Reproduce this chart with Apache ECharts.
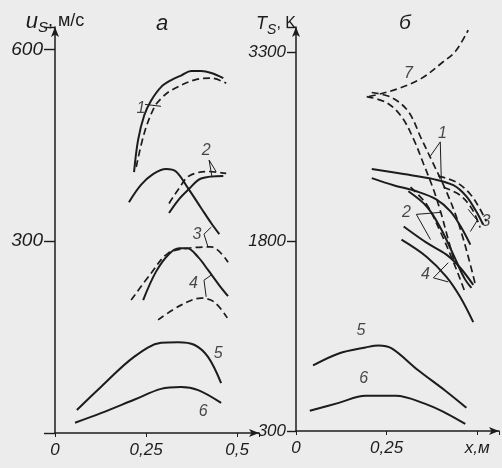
<!DOCTYPE html>
<html><head><meta charset="utf-8">
<script src="https://cdn.jsdelivr.net/npm/echarts@6/dist/echarts.min.js"></script>
<style>html,body{margin:0;padding:0;background:#ececec}#c{width:502px;height:468px}</style>
</head><body><div id="c"></div>
<script>
// ---- panel а : u_S (м/с) vs x (м) ----
const xTicks = [0, 0.25, 0.5];
const xTickLabelsA = ['0', '0,25', '0,5'];
const xTickLabelsB = ['0', '0,25', 'x,м'];
const yTicksA = [300, 600];
const yTicksB = [300, 1800, 3300];

const a1Solid = [[0.217,408],[0.228,458],[0.245,497],[0.264,520],[0.291,541],[0.319,552],[0.346,559],[0.374,566],[0.401,566],[0.429,563],[0.462,555]];
const a1Dash  = [[0.223,416],[0.245,469],[0.272,509],[0.291,523],[0.319,536],[0.382,552],[0.429,555],[0.470,547]];
const a2Hill  = [[0.203,361],[0.236,388],[0.269,405],[0.305,413],[0.332,409],[0.365,383],[0.401,352],[0.429,328],[0.451,311]];
const a2Solid = [[0.313,344],[0.338,364],[0.365,380],[0.401,398],[0.462,402]];
const a2Dash  = [[0.313,359],[0.341,383],[0.368,402],[0.420,409],[0.470,406]];
const a3Solid = [[0.242,208],[0.277,252],[0.313,280],[0.341,289],[0.363,289],[0.393,275],[0.420,255],[0.451,231],[0.475,214]];
const a3Dash  = [[0.209,208],[0.264,250],[0.310,281],[0.365,289],[0.429,291],[0.475,267]];
const a4Dash  = [[0.283,177],[0.346,200],[0.401,211],[0.437,205],[0.473,180]];
const a5Solid = [[0.060,36],[0.126,72],[0.217,119],[0.291,141],[0.338,142],[0.382,138],[0.420,119],[0.456,78]];
const a6Solid = [[0.055,16],[0.126,31],[0.217,52],[0.291,69],[0.346,72],[0.393,67],[0.456,47]];
const aLabels = [[0.236,508,'1'],[0.415,441,'2'],[0.390,311,'3'],[0.380,234,'4'],[0.448,125,'5'],[0.407,33,'6']];
const aLeaders = [
  [[0.247,514],[0.291,511]],
  [[0.423,427],[0.442,409]],[[0.423,427],[0.431,400]],
  [[0.409,311],[0.429,322]],[[0.409,311],[0.420,291]],
  [[0.409,239],[0.429,247]],[[0.409,239],[0.415,213]]
];

// ---- panel б : T_S (K) vs x (м) ----
const b7Dash  = [[0.201,2949],[0.236,2973],[0.283,3013],[0.346,3093],[0.401,3213],[0.440,3308],[0.475,3476]];
const b1DashA = [[0.195,2949],[0.250,2901],[0.291,2790],[0.324,2614],[0.352,2415],[0.379,2215],[0.401,2016],[0.420,1816],[0.437,1641]];
const b1DashB = [[0.209,2981],[0.264,2941],[0.310,2830],[0.346,2614],[0.379,2415],[0.412,2215],[0.440,2016],[0.462,1816],[0.481,1617],[0.495,1457]];
const b2Dash  = [[0.316,2231],[0.360,2096],[0.398,1880],[0.434,1641],[0.464,1417]];
const b3DashA = [[0.393,2319],[0.442,2271],[0.481,2175],[0.508,2056],[0.525,1960]];
const b3DashB = [[0.407,2231],[0.453,2167],[0.486,2056],[0.508,1912]];
const b1SolidA = [[0.209,2375],[0.297,2335],[0.379,2295],[0.434,2247],[0.470,2159],[0.497,2040],[0.516,1936]];
const b1SolidB = [[0.209,2303],[0.269,2247],[0.332,2199],[0.387,2135],[0.426,2040],[0.456,1912],[0.481,1776]];
const b2Solid = [[0.310,2199],[0.360,2080],[0.398,1912],[0.434,1697],[0.464,1513],[0.484,1433]];
const b4SolidA = [[0.297,1920],[0.360,1792],[0.415,1697],[0.453,1593],[0.489,1457]];
const b4SolidB = [[0.291,1816],[0.360,1681],[0.415,1521],[0.453,1361],[0.489,1162]];
const b5Solid = [[0.047,819],[0.118,914],[0.192,962],[0.228,978],[0.264,954],[0.338,779],[0.412,619],[0.470,484]];
const b6Solid = [[0.038,460],[0.118,523],[0.192,579],[0.275,579],[0.357,515],[0.412,444],[0.467,356]];
const bLabels = [[0.310,3133,'7'],[0.404,2660,'1'],[0.305,2032,'2'],[0.524,1960,'3'],[0.357,1537,'4'],[0.179,1098,'5'],[0.187,715,'6']];
const bLeaders = [
  [[0.398,2590],[0.371,2479]],[[0.398,2590],[0.401,2271]],
  [[0.332,2016],[0.401,2032]],[[0.332,2016],[0.371,1816]],
  [[0.500,1968],[0.475,2056]],[[0.500,1968],[0.481,1880]],
  [[0.379,1513],[0.420,1633]],[[0.379,1513],[0.420,1481]]
];

const INK = '#1c1c1c';
const FONT = 'Liberation Sans';
function curve(data, g, dashed){
  return {type:'line', xAxisIndex:g, yAxisIndex:g, data:data, smooth:0.35, symbol:'none',
    lineStyle:{color:INK, width: dashed?1.7:2, type: dashed?[7,4]:'solid'}, silent:true, z:3};
}
function labels(data, g){
  return {type:'scatter', xAxisIndex:g, yAxisIndex:g, data:data, symbolSize:0, silent:true, z:5,
    label:{show:true, position:'inside', formatter:p=>p.value[2], color:INK, fontFamily:FONT, fontStyle:'italic', fontSize:16}};
}
function leaders(list, g){
  return {type:'lines', coordinateSystem:'cartesian2d', xAxisIndex:g, yAxisIndex:g, silent:true, z:4,
    data:list.map(c=>({coords:c})), lineStyle:{color:INK, width:1, opacity:1, curveness:0}};
}
function xAxis(g, labs){
  return {gridIndex:g, type:'value', min:0, max:0.56, interval:0.25,
    axisLine:{show:true, lineStyle:{color:INK, width:1.5}, symbol:['none','arrow'], symbolSize:[6,10]},
    axisTick:{show:true, length:4, lineStyle:{color:INK}}, splitLine:{show:false},
    axisLabel:{color:INK, fontFamily:FONT, fontStyle:'italic', fontSize:17, margin:9,
      formatter:v=>{const i=xTicks.findIndex(t=>Math.abs(t-v)<1e-6); return i<0?'':labs[i];}}};
}
const option = {
  backgroundColor:'#ececec', animation:false,
  title:[
    {text:'а', left:151, top:8, textStyle:{fontFamily:FONT, fontStyle:'italic', fontWeight:'normal', fontSize:22, color:INK}},
    {text:'б', left:394, top:8, textStyle:{fontFamily:FONT, fontStyle:'italic', fontWeight:'normal', fontSize:21, color:INK}}
  ],
  grid:[
    {left:55, top:27, width:204, height:406},
    {left:296, top:27, width:204, height:404}
  ],
  xAxis:[xAxis(0, xTickLabelsA), xAxis(1, xTickLabelsB)],
  yAxis:[
    {gridIndex:0, type:'value', min:0, max:635, interval:300,
     name:'{u|u}{s|S}{n|, м/с}', nameLocation:'end', nameGap:-8,
     nameTextStyle:{align:'center', rich:{
       u:{fontFamily:FONT, fontStyle:'italic', fontSize:22, color:INK},
       s:{fontFamily:FONT, fontStyle:'italic', fontSize:15, color:INK, padding:[12,0,0,0]},
       n:{fontFamily:FONT, fontSize:18, color:INK}}},
     axisLine:{show:true, lineStyle:{color:INK, width:1.5}, symbol:['none','arrow'], symbolSize:[6,10]},
     axisTick:{show:true, length:11, lineStyle:{color:INK, width:1.4}}, splitLine:{show:false},
     axisLabel:{color:INK, fontFamily:FONT, fontStyle:'italic', fontSize:19, margin:12,
       formatter:v=>yTicksA.includes(v)?String(v):''}},
    {gridIndex:1, type:'value', min:300, max:3500, interval:1500,
     name:'{u|T}{s|S}{n|, K}', nameLocation:'end', nameGap:-10,
     nameTextStyle:{align:'right', rich:{
       u:{fontFamily:FONT, fontStyle:'italic', fontSize:18, color:INK},
       s:{fontFamily:FONT, fontStyle:'italic', fontSize:14, color:INK, padding:[12,0,0,0]},
       n:{fontFamily:FONT, fontSize:16, color:INK}}},
     axisLine:{show:true, lineStyle:{color:INK, width:1.5}, symbol:['none','arrow'], symbolSize:[6,10]},
     axisTick:{show:true, length:9, lineStyle:{color:INK, width:1.4}}, splitLine:{show:false},
     axisLabel:{color:INK, fontFamily:FONT, fontStyle:'italic', fontSize:17, margin:10,
       formatter:v=>yTicksB.includes(v)?String(v):''}}
  ],
  series:[
    curve(a1Solid,0,false), curve(a1Dash,0,true), curve(a2Hill,0,false), curve(a2Solid,0,false), curve(a2Dash,0,true),
    curve(a3Solid,0,false), curve(a3Dash,0,true), curve(a4Dash,0,true), curve(a5Solid,0,false), curve(a6Solid,0,false),
    labels(aLabels,0), leaders(aLeaders,0),
    curve(b7Dash,1,true), curve(b1DashA,1,true), curve(b1DashB,1,true), curve(b2Dash,1,true), curve(b3DashA,1,true), curve(b3DashB,1,true),
    curve(b1SolidA,1,false), curve(b1SolidB,1,false), curve(b2Solid,1,false), curve(b4SolidA,1,false), curve(b4SolidB,1,false),
    curve(b5Solid,1,false), curve(b6Solid,1,false),
    labels(bLabels,1), leaders(bLeaders,1)
  ]
};
echarts.init(document.getElementById('c'), null, {renderer:'canvas'}).setOption(option);
</script>
</body></html>
